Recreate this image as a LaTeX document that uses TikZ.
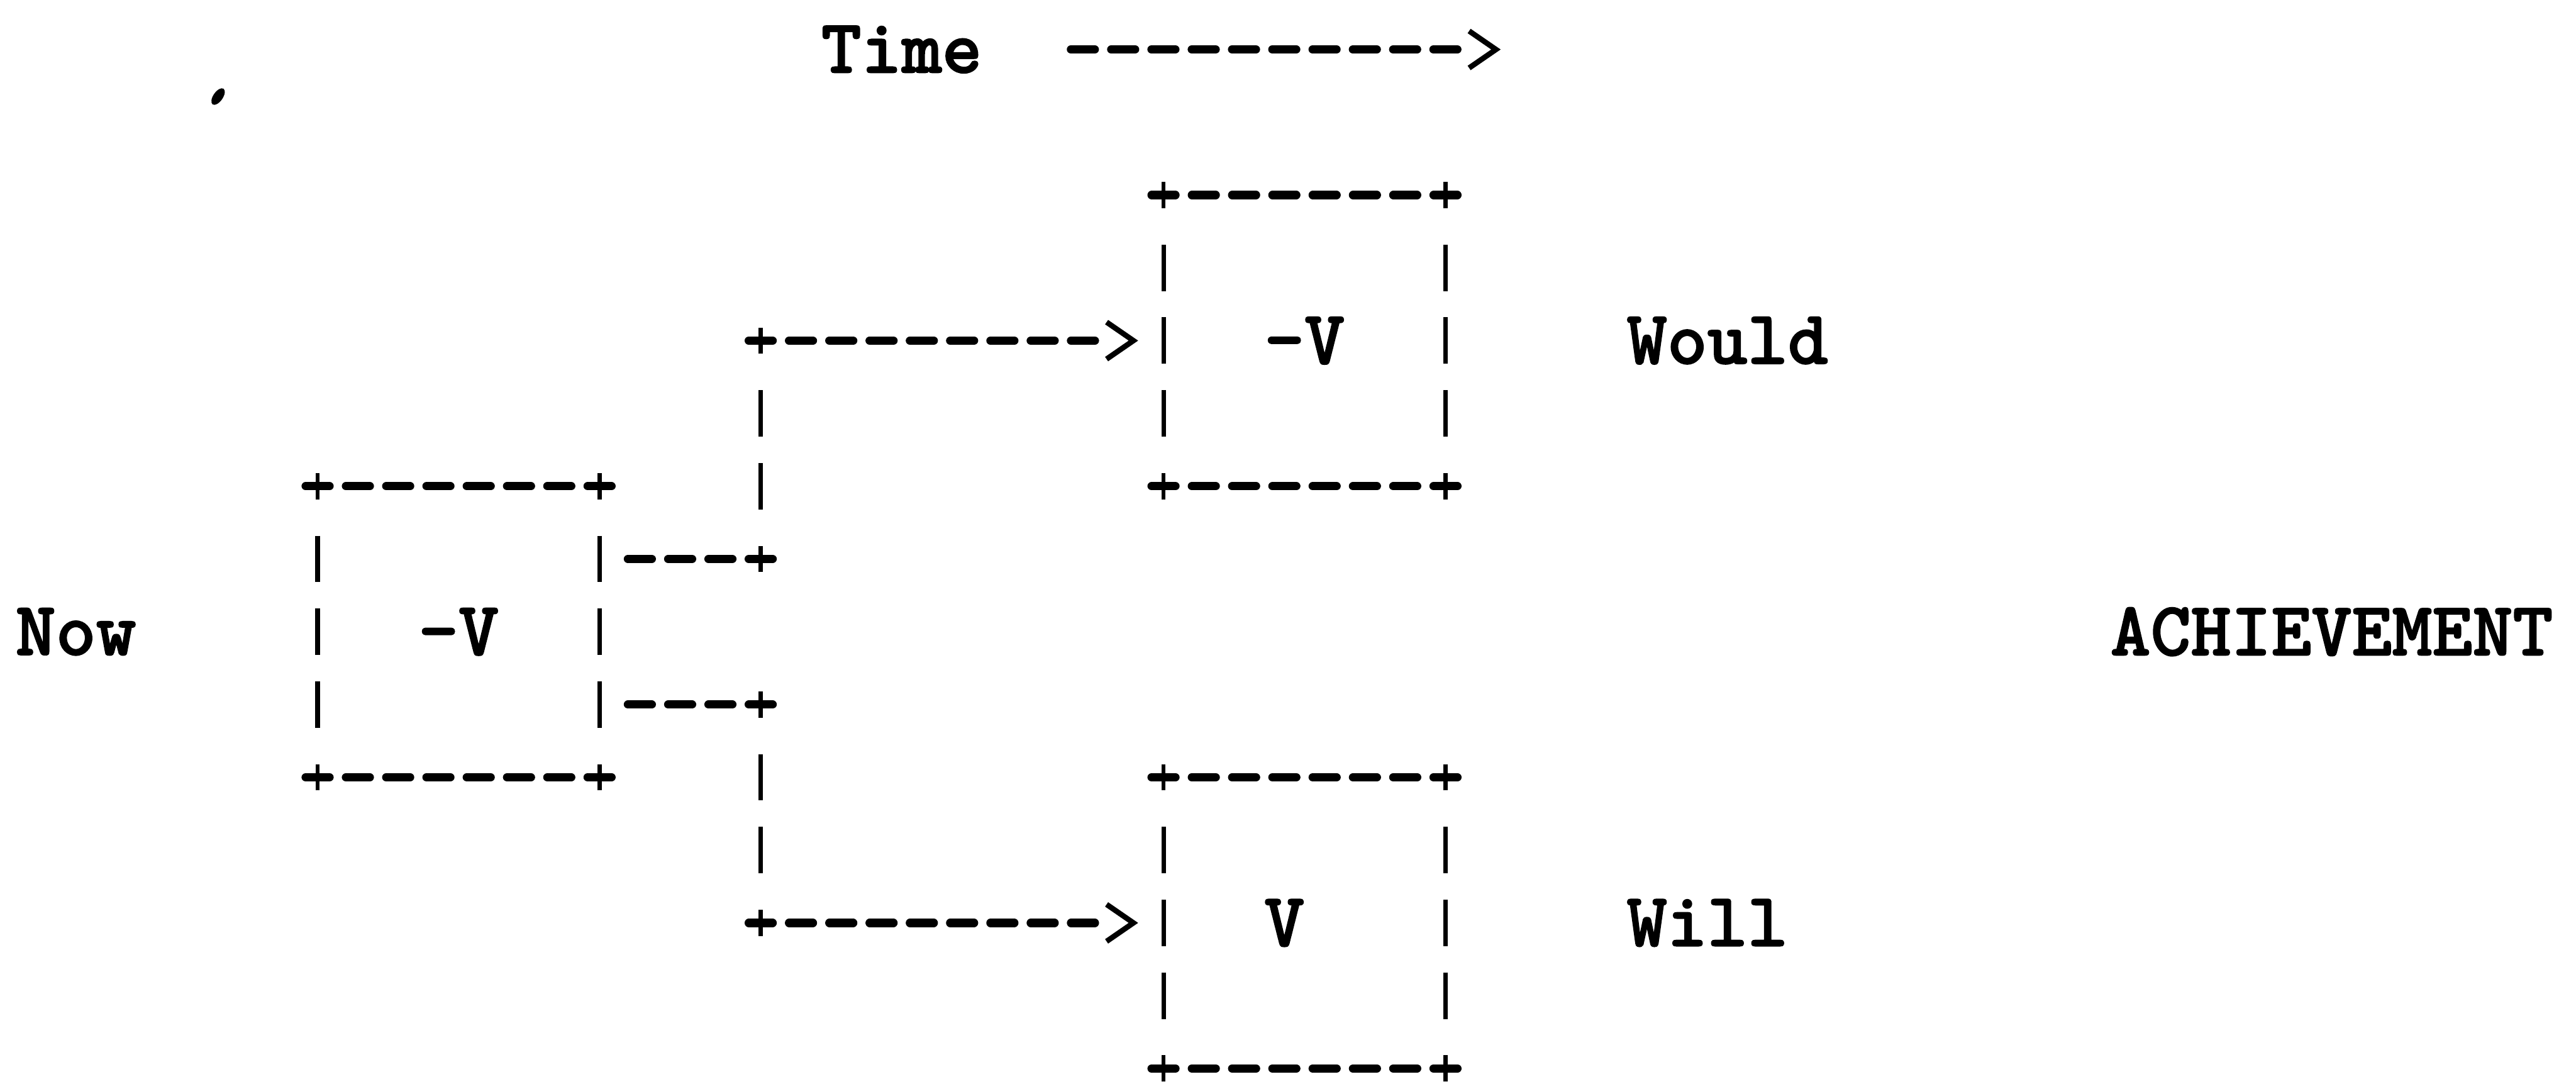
\documentclass[tikz,border=0pt]{standalone}
\usepackage{fontspec}
\newfontfamily\twfont{lmmonolt10-bold.otf}[FakeBold=1.5]
\usepackage{tikz}
\usetikzlibrary{arrows.meta}

\begin{document}
\begin{tikzpicture}[
    font=\twfont\fontsize{36.6}{44}\selectfont,
    lbl/.style  = {inner sep=0pt, outer sep=0pt},
    tbox/.style = {minimum width=4.732cm, minimum height=4.884cm, inner sep=0pt, outer sep=0pt},
    hd/.style   = {line width=0.14cm, line cap=round, dash pattern=on 0.40cm off 0.276cm,
                   shorten <=0.476cm, shorten >=0.476cm},
    vd/.style   = {line width=0.075cm, dash pattern=on 0.78cm off 0.441cm,
                   shorten <=0.831cm, shorten >=0.831cm},
    chev/.style = {draw=white, line width=0.01pt,
                   -{Straight Barb[color=black, length=0.45cm, width=0.62cm, line width=0.09cm]}},
    crs/.pic    = {\draw[line width=0.14cm, line cap=round] (-0.2cm,0) -- (0.2cm,0);
                   \draw[line width=0.07cm] (0,-0.22cm) -- (0,0.22cm);},
]
\useasboundingbox (0,0) rectangle (43.23,-18.18);

% stray mark on the sheet
\fill[shift={(3.66,-1.62)}, rotate=-35] (0,0) ellipse (0.08 and 0.16);

% one unit = one typewriter column / one line
\begin{scope}[shift={(5.33,-0.83)}, x=0.676cm, y=-1.221cm]

%======== boxes ========
\node[tbox] (nowbox)   at (3.5,8)   {-V};
\node[tbox] (wouldbox) at (24.5,4)  {-V};
\node[tbox] (willbox)  at (24.5,12) {V\phantom{-}};

\foreach \b in {nowbox,wouldbox,willbox} {
  \draw[hd] (\b.north west) -- (\b.north east);
  \draw[hd] (\b.south west) -- (\b.south east);
  \draw[vd] (\b.north west) -- (\b.south west);
  \draw[vd] (\b.north east) -- (\b.south east);
  \foreach \a in {north west,north east,south west,south east}
    \pic at (\b.\a) {crs};
}

%======== labels ========
\node[lbl] (time)  at (14.5,0) {Time};
\node[lbl] (now)   at (-6,8)   {Now};
\node[lbl] (would) at (35,4)   {Would};
\node[lbl] (will)  at (34.5,12) {Will};
\node[lbl] (achv)  at (50,8)   {ACHIEVEMENT};

%======== junctions ========
\coordinate (c1)   at (11,4);
\coordinate (j1)   at (11,7);
\coordinate (j2)   at (11,9);
\coordinate (c2)   at (11,12);
\coordinate (tend) at (30,0);
\foreach \p in {c1,j1,j2,c2} \pic at (\p) {crs};

% --- Time arrow
\draw[hd, shorten <=1.49cm, shorten >=1.152cm] (time) -- (tend);
\draw[chev, shorten <=8.2cm, shorten >=0.426cm] (time) -- (tend);

% --- Now -> Would
\draw[hd] (nowbox.east |- j1) -- (j1);
\draw[vd] (j1) -- (c1);
\draw[hd, shorten >=1.152cm] (c1) -- (wouldbox.west |- c1);
\draw[chev, shorten <=5.8cm, shorten >=0.426cm] (c1) -- (wouldbox.west |- c1);

% --- Now -> Will
\draw[hd] (nowbox.east |- j2) -- (j2);
\draw[vd] (j2) -- (c2);
\draw[hd, shorten >=1.152cm] (c2) -- (willbox.west |- c2);
\draw[chev, shorten <=5.8cm, shorten >=0.426cm] (c2) -- (willbox.west |- c2);

\end{scope}
\end{tikzpicture}
\end{document}
